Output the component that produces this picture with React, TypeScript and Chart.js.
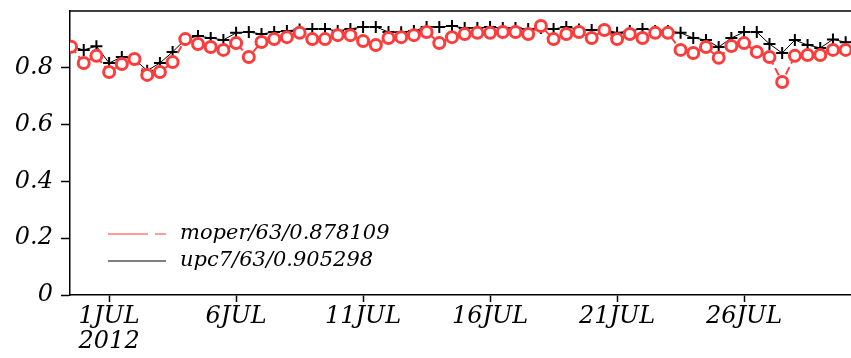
import React, { useEffect, useRef } from "react";
import { Chart, registerables } from "chart.js";

Chart.register(...registerables);

// time axis: days relative to 1 JUL 2012 00:00, 12-hourly
const dayOffsets: number[] = [
  -1.5, -1, -0.5, 0, 0.5, 1, 1.5, 2, 2.5, 3, 3.5, 4, 4.5, 5, 5.5, 6, 6.5, 7, 7.5, 8,
  8.5, 9, 9.5, 10, 10.5, 11, 11.5, 12, 12.5, 13, 13.5, 14, 14.5, 15, 15.5, 16, 16.5,
  17, 17.5, 18, 18.5, 19, 19.5, 20, 20.5, 21, 21.5, 22, 22.5, 23, 23.5, 24, 24.5, 25,
  25.5, 26, 26.5, 27, 27.5, 28, 28.5, 29, 29.5,
];

const moperValues: number[] = [
  0.874, 0.817, 0.842, 0.785, 0.813, 0.831, 0.775, 0.785, 0.82, 0.901,
  0.884, 0.873, 0.863, 0.887, 0.838, 0.891, 0.901, 0.908, 0.923, 0.901,
  0.901, 0.915, 0.915, 0.894, 0.88, 0.905, 0.908, 0.915, 0.926, 0.887,
  0.908, 0.919, 0.923, 0.923, 0.926, 0.926, 0.919, 0.947, 0.901, 0.919,
  0.926, 0.905, 0.933, 0.901, 0.919, 0.905, 0.923, 0.923, 0.863, 0.852,
  0.873, 0.835, 0.877, 0.887, 0.856, 0.838, 0.75, 0.842, 0.845, 0.845,
  0.863, 0.863, 0.865,
];

const upc7Values: number[] = [
  0.875, 0.863, 0.876, 0.817, 0.838, 0.83, 0.79, 0.817, 0.856, 0.9,
  0.912, 0.905, 0.898, 0.923, 0.926, 0.919, 0.926, 0.93, 0.935, 0.937,
  0.937, 0.93, 0.937, 0.944, 0.944, 0.926, 0.925, 0.93, 0.944, 0.944,
  0.947, 0.94, 0.94, 0.944, 0.94, 0.94, 0.937, 0.94, 0.937, 0.944,
  0.935, 0.933, 0.935, 0.923, 0.93, 0.937, 0.93, 0.93, 0.923, 0.905,
  0.898, 0.873, 0.905, 0.926, 0.926, 0.884, 0.852, 0.898, 0.88, 0.87,
  0.9, 0.89, 0.89,
];

const seriesLabels: string[] = ["moper/63/0.878109", "upc7/63/0.905298"];

const xTickValues: number[] = [0, 5, 10, 15, 20, 25];
const xTickLabels: (string | string[])[] = [
  ["1JUL", "2012"],
  "6JUL",
  "11JUL",
  "16JUL",
  "21JUL",
  "26JUL",
];
const yTickValues: number[] = [0, 0.2, 0.4, 0.6, 0.8];
const yTickLabels: string[] = ["0", "0.2", "0.4", "0.6", "0.8"];

const RED = "#ff3c3c";
const FONT_FAMILY = "'DejaVu Serif', serif";

const frameAndLegend = {
  id: "frameAndLegend",
  afterDraw(chart: any) {
    const { ctx, chartArea } = chart;
    ctx.save();
    // top frame line
    ctx.strokeStyle = "#000";
    ctx.lineWidth = 1.5;
    ctx.beginPath();
    ctx.moveTo(chartArea.left, chartArea.top);
    ctx.lineTo(chartArea.right, chartArea.top);
    ctx.stroke();

    // legend
    const ds = chart.data.datasets;
    const rows = [
      { y: 234, color: RED, dash: [40, 7, 11, 100] },
      { y: 261, color: "#000", dash: [] as number[] },
    ];
    ctx.font = `italic 21px ${FONT_FAMILY}`;
    ctx.textBaseline = "middle";
    ctx.textAlign = "left";
    rows.forEach((r, i) => {
      ctx.strokeStyle = r.color;
      ctx.lineWidth = 1.2;
      ctx.setLineDash(r.dash);
      ctx.beginPath();
      ctx.moveTo(108, r.y);
      ctx.lineTo(166, r.y);
      ctx.stroke();
      ctx.setLineDash([]);
      ctx.fillStyle = "#000";
      ctx.fillText(ds[i].label, 180, r.y);
    });
    ctx.restore();
  },
};

export default function App() {
  const canvasRef = useRef<HTMLCanvasElement | null>(null);

  useEffect(() => {
    if (!canvasRef.current) return;
    const chart = new Chart(canvasRef.current, {
      type: "line",
      data: {
        datasets: [
          {
            label: seriesLabels[0],
            data: dayOffsets.map((x, i) => ({ x, y: moperValues[i] })),
            borderColor: RED,
            borderWidth: 2,
            borderDash: [8, 4],
            pointStyle: "circle",
            pointRadius: 5.5,
            pointBorderWidth: 3,
            pointBorderColor: RED,
            pointBackgroundColor: "#fff",
            tension: 0,
          },
          {
            label: seriesLabels[1],
            data: dayOffsets.map((x, i) => ({ x, y: upc7Values[i] })),
            borderColor: "#000",
            borderWidth: 1,
            pointStyle: "cross",
            pointRadius: 6,
            pointBorderWidth: 2,
            pointBorderColor: "#000",
            pointBackgroundColor: "#000",
            tension: 0,
          },
        ],
      },
      options: {
        animation: false,
        responsive: false,
        maintainAspectRatio: false,
        layout: { autoPadding: false, padding: { top: 11, right: 0, left: 0, bottom: 0 } },
        plugins: {
          legend: { display: false },
          tooltip: { enabled: false },
        },
        scales: {
          x: {
            type: "linear",
            min: -1.54,
            max: 29.21,
            afterBuildTicks: (scale: any) => {
              scale.ticks = xTickValues.map((v) => ({ value: v }));
            },
            afterFit: (scale: any) => {
              scale.height = 63;
              scale.paddingLeft = 0;
              scale.paddingRight = 0;
            },
            ticks: {
              autoSkip: false,
              maxRotation: 0,
              padding: 2,
              color: "#000",
              font: { family: FONT_FAMILY, size: 24, style: "italic", lineHeight: 1.05 },
              callback: (value: any) => {
                const idx = xTickValues.indexOf(Number(value));
                return idx >= 0 ? xTickLabels[idx] : "";
              },
            },
            grid: {
              display: true,
              drawOnChartArea: false,
              drawTicks: true,
              tickLength: 7,
              tickColor: "#000",
              tickWidth: 1.5,
            },
            border: { display: true, color: "#000", width: 1.5 },
          },
          y: {
            type: "linear",
            min: 0,
            max: 1,
            afterBuildTicks: (scale: any) => {
              scale.ticks = yTickValues.map((v) => ({ value: v }));
            },
            afterFit: (scale: any) => {
              scale.width = 70;
              scale.paddingTop = 0;
              scale.paddingBottom = 0;
            },
            ticks: {
              autoSkip: false,
              padding: 8,
              color: "#000",
              font: { family: FONT_FAMILY, size: 24, style: "italic" },
              callback: (value: any) => {
                const idx = yTickValues.indexOf(Number(value));
                return idx >= 0 ? yTickLabels[idx] : "";
              },
            },
            grid: {
              display: true,
              drawOnChartArea: false,
              drawTicks: true,
              tickLength: 9,
              tickColor: "#000",
              tickWidth: 1.5,
            },
            border: { display: true, color: "#000", width: 1.5 },
          },
        },
      },
      plugins: [frameAndLegend],
    });
    return () => chart.destroy();
  }, []);

  return (
    <div style={{ position: "fixed", left: 0, top: 0, width: 851, height: 358, background: "#fff" }}>
      <canvas ref={canvasRef} width={851} height={358} style={{ width: 851, height: 358, display: "block" }} />
    </div>
  );
}
